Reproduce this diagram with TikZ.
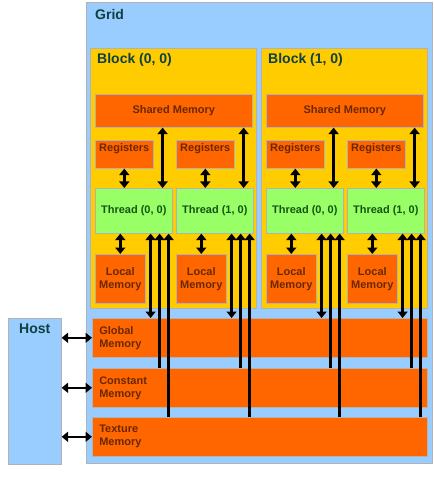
\documentclass[tikz,border=0pt]{standalone}
\usepackage{fontspec}
\setmainfont{Liberation Sans}
\usetikzlibrary{arrows.meta}
\definecolor{gridblue}{RGB}{153,204,255}
\definecolor{blockyellow}{RGB}{255,204,0}
\definecolor{memorange}{RGB}{255,102,0}
\definecolor{threadgreen}{RGB}{153,255,102}
\definecolor{titleteal}{RGB}{16,64,64}
\definecolor{memtext}{RGB}{105,40,0}
\definecolor{threadtext}{RGB}{20,85,20}
\tikzset{
  box/.style={draw=black!30, line width=0.6pt, anchor=north west, inner sep=0pt},
  title/.style={text=titleteal, font=\bfseries\fontsize{14}{16}\selectfont, inner sep=0pt},
  mem/.style={box, fill=memorange, text=memtext, font=\bfseries\fontsize{11}{13}\selectfont, align=center},
  thr/.style={box, fill=threadgreen, text=threadtext, font=\bfseries\fontsize{11}{13}\selectfont},
  tip/.tip={Triangle[length=6.5pt,width=10pt]},
  dbl/.style={tip-tip, line width=2.5pt},
  upa/.style={-tip, line width=2.5pt}
}
\begin{document}
\begin{tikzpicture}[x=1pt,y=-1pt]
\useasboundingbox (0,0) rectangle (433,478);
% grid and host
\node[box, fill=gridblue, minimum width=346pt, minimum height=461pt] (grid) at (86,2) {};
\node[title, anchor=west] (gridlbl) at (95,14) {Grid};
\node[box, fill=gridblue, minimum width=53pt, minimum height=146pt] (host) at (8,318) {};
\node[title] (hostlbl) at ([yshift=-11pt]host.north) {Host};
% device memories
\node[mem, minimum width=335pt, minimum height=39pt, text width=321pt, inner xsep=7pt, align=left] (gm) at (92,318) {Global\\Memory};
\node[mem, minimum width=335pt, minimum height=39pt, text width=321pt, inner xsep=7pt, align=left] (cm) at (92,368) {Constant\\Memory};
\node[mem, minimum width=335pt, minimum height=39pt, text width=321pt, inner xsep=7pt, align=left] (tm) at (92,417) {Texture\\Memory};
\foreach \m in {gm,cm,tm}
  \draw[dbl] (host.east |- \m.west) -- (\m.west);
% blocks
\foreach \b/\bx in {0/0,1/171} {
  \node[box, fill=blockyellow, minimum width=166pt, minimum height=260pt] (blk\b) at (90+\bx,48) {};
  \node[title, anchor=west] (blklbl\b) at (97+\bx,60) {Block (\b, 0)};
  \node[mem, minimum width=157pt, minimum height=33pt] (sh\b) at (95+\bx,94) {Shared Memory};
  \foreach \t/\tx in {0/0,1/81} {
    \node[mem, minimum width=58pt, minimum height=28pt, inner ysep=3pt, text height=8pt, text depth=14pt] (reg\b\t) at (95+\bx+\tx,140) {Registers};
    \node[thr, minimum width=77pt, minimum height=45pt] (th\b\t) at (95+\bx+\tx,188) {Thread (\t, 0)};
    \node[mem, minimum width=50pt, minimum height=49pt] (loc\b\t) at (95+\bx+\tx,254) {Local\\Memory};
  }
}
% connectors
\foreach \b in {0,1} {
  \foreach \t in {0,1} {
    \draw[dbl] (reg\b\t.south) -- (reg\b\t.south |- th\b\t.north);
    \draw[dbl] ([xshift=-10pt]th\b\t.north east) -- ([xshift=-10pt]th\b\t.north east |- sh\b.south);
    \draw[dbl] (loc\b\t.north) -- (loc\b\t.north |- th\b\t.south);
    \draw[dbl] ([xshift=-22pt]th\b\t.south east) -- ([xshift=-22pt]th\b\t.south east |- gm.north);
    \draw[upa] ([xshift=-13pt]th\b\t.south east |- cm.north) -- ([xshift=-13pt]th\b\t.south east);
    \draw[upa] ([xshift=-4pt]th\b\t.south east |- tm.north) -- ([xshift=-4pt]th\b\t.south east);
  }
}
\end{tikzpicture}
\end{document}
